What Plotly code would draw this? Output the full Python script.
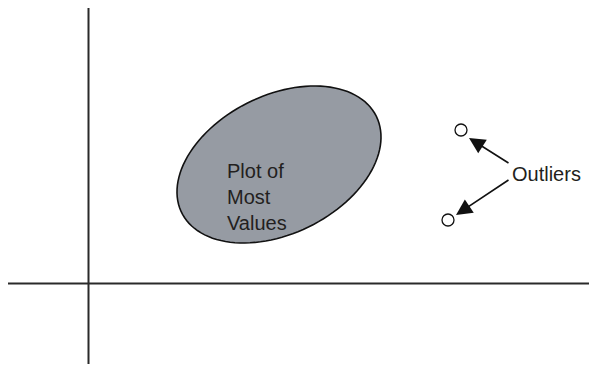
import numpy as np
import plotly.graph_objects as go

# main cluster ("Plot of Most Values"), in pixel-like units
cluster_center = [279, 164.5]
cluster_axes = [108.6, 69.1]      # semi-major, semi-minor
cluster_tilt_deg = 26.4
cluster_label = "Plot of<br>Most<br>Values"

# outliers
outlier_x = [461, 448]
outlier_y = [130, 220]
outlier_label = "Outliers"

# axis crossing
axis_x = 88.5
axis_y = 283.5

W, H = 597, 366
PAD = 8  # page body margin, the figure sits 8px in from the corner
ink = "#2a2a2a"


def ellipse_path(center, axes, tilt_deg, n=120):
    t = np.linspace(0, 2 * np.pi, n)
    th = np.radians(tilt_deg)
    a, b = axes
    xs = center[0] + a * np.cos(t) * np.cos(th) - b * np.sin(t) * np.sin(th)
    ys = center[1] - (a * np.cos(t) * np.sin(th) + b * np.sin(t) * np.cos(th))
    pts = [f"{x:.2f},{y:.2f}" for x, y in zip(xs, ys)]
    return "M " + " L ".join(pts) + " Z"


fig = go.Figure()

fig.add_trace(go.Scatter(
    x=outlier_x, y=outlier_y, mode="markers",
    marker=dict(symbol="circle-open", size=12, color="#111", line=dict(width=1.3)),
    hoverinfo="skip", showlegend=False,
))

shapes = [
    dict(type="line", x0=axis_x, x1=axis_x, y0=3, y1=364,
         line=dict(color=ink, width=2)),
    dict(type="line", x0=6, x1=W, y0=axis_y, y1=axis_y,
         line=dict(color=ink, width=2)),
    dict(type="path", path=ellipse_path(cluster_center, cluster_axes, cluster_tilt_deg),
         fillcolor="#969ba3", line=dict(color="#111", width=1.6), layer="below"),
]

annotations = [
    dict(x=225, y=197, text=cluster_label, showarrow=False, xanchor="left",
         yanchor="middle", align="left",
         font=dict(family="Liberation Sans, Arial", size=20, color="#231f20")),
    dict(x=510, y=174, text=outlier_label, showarrow=False, xanchor="left",
         yanchor="middle",
         font=dict(family="Liberation Sans, Arial", size=20, color="#231f20")),
]
# arrows from the label to each outlier
arrow_tips = [(469, 138), (456, 215)]
arrow_tails = [(510, 164), (510, 179)]
for (tx, ty), (sx, sy) in zip(arrow_tips, arrow_tails):
    annotations.append(dict(
        x=tx, y=ty, ax=sx, ay=sy, xref="x", yref="y", axref="x", ayref="y",
        text="", showarrow=True, arrowhead=2, arrowsize=2, arrowwidth=1.6,
        arrowcolor="#111",
    ))

fig.update_layout(
    width=W - PAD, height=H - PAD,
    margin=dict(l=0, r=0, t=0, b=0),
    paper_bgcolor="white", plot_bgcolor="white",
    xaxis=dict(range=[PAD, W], visible=False, fixedrange=True),
    yaxis=dict(range=[H, PAD], visible=False, fixedrange=True),
    shapes=shapes, annotations=annotations,
)

fig.write_html("out.html")
